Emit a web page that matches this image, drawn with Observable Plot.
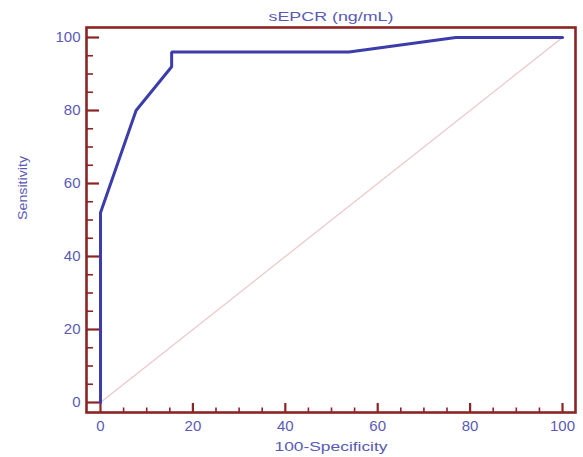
<!DOCTYPE html>
<html>
<head>
<meta charset="utf-8">
<script src="https://cdn.jsdelivr.net/npm/d3@7"></script>
<script src="https://cdn.jsdelivr.net/npm/@observablehq/plot@0.6"></script>
<style>
  html, body { margin: 0; padding: 0; background: #fff; }
</style>
</head>
<body>
<div id="chart"></div>
<script>
// ROC curve data
const specComplement = [0, 0, 7.7, 15.4, 15.4, 53.8, 76.9, 100]; // 100-Specificity
const sensitivity   = [0, 52, 80, 92, 96, 96, 100, 100];
const diagX = [0, 100];
const diagY = [0, 100];
const majorTicks = [0, 20, 40, 60, 80, 100];
const minorTicks = [5, 10, 15, 25, 30, 35, 45, 50, 55, 65, 70, 75, 85, 90, 95];
const titleText = "sEPCR (ng/mL)";
const xLabel = "100-Specificity";
const yLabel = "Sensitivity";

const W = 583, H = 457;
const mL = 86, mR = 8, mT = 27, mB = 45;
const frameW = W - mL - mR, frameH = H - mT - mB;

const frameColor = "#8b2424";
const textColor = "#5a5ab4";
const curveColor = "#3c3caa";
const diagColor = "#ecc6c6";

const curve = specComplement.map((x, i) => ({x, y: sensitivity[i]}));
const diag = diagX.map((x, i) => ({x, y: diagY[i]}));

const chart = Plot.plot({
  width: W,
  height: H,
  marginLeft: mL, marginRight: mR, marginTop: mT, marginBottom: mB,
  style: {fontFamily: "'Liberation Sans', Arial, sans-serif", background: "#fff"},
  x: {domain: [-3.03, 102.81]},
  y: {domain: [-2.74, 102.74]},
  marks: [
    Plot.line(diag, {x: "x", y: "y", stroke: diagColor, strokeWidth: 1.2}),
    Plot.tickX(majorTicks, {x: d => d, stroke: frameColor, strokeWidth: 2.2, insetTop: frameH - 9}),
    Plot.tickX(minorTicks, {x: d => d, stroke: frameColor, strokeWidth: 1.6, insetTop: frameH - 4.5}),
    Plot.tickY(majorTicks, {y: d => d, stroke: frameColor, strokeWidth: 2.2, insetRight: frameW - 13}),
    Plot.tickY(minorTicks, {y: d => d, stroke: frameColor, strokeWidth: 1.6, insetRight: frameW - 7}),
    Plot.axisX({ticks: majorTicks, tickSize: 0, tickPadding: 8, fontSize: 15, color: textColor, label: null}),
    Plot.axisY({ticks: majorTicks, tickSize: 0, tickPadding: 6, fontSize: 15, color: textColor, label: null}),
    Plot.line(curve, {x: "x", y: "y", stroke: curveColor, strokeWidth: 3, strokeLinejoin: "miter"}),
    Plot.frame({stroke: frameColor, strokeWidth: 2.6}),
    Plot.text([titleText], {text: d => d, frameAnchor: "top", dy: -11, lineAnchor: "middle", fontSize: 13, fill: textColor, className: "ttl"}),
    Plot.text([xLabel], {text: d => d, frameAnchor: "bottom", dy: 34.5, lineAnchor: "middle", fontSize: 13, fill: textColor, className: "xlbl"}),
    Plot.text([yLabel], {text: d => d, frameAnchor: "left", dx: -64, rotate: -90, lineAnchor: "middle", fontSize: 13.5, fill: textColor, className: "ylbl"})
  ]
});

document.getElementById("chart").appendChild(chart);

// stretch the text labels horizontally like the reference
function stretch(cls, len) {
  chart.querySelectorAll(`.${cls} text`).forEach(t => {
    t.setAttribute("textLength", len);
    t.setAttribute("lengthAdjust", "spacingAndGlyphs");
  });
}
stretch("ttl", 125);
stretch("xlbl", 113);
stretch("ylbl", 64);
</script>
</body>
</html>
